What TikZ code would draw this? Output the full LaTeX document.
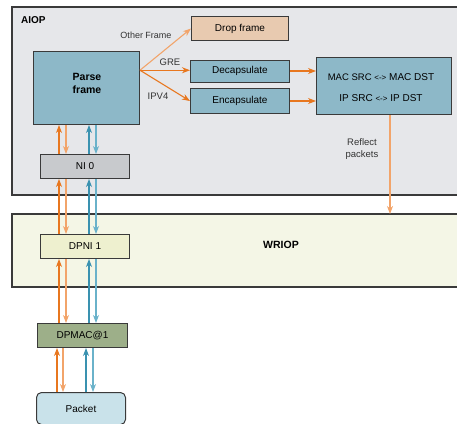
\documentclass[tikz,border=0pt]{standalone}
\usepackage{fontspec}
\setmainfont{Liberation Sans}
\usetikzlibrary{arrows.meta,calc}
\definecolor{aiopbg}{HTML}{E6E7EA}
\definecolor{wriopbg}{HTML}{F4F6E6}
\definecolor{parsebg}{HTML}{8DB8C8}
\definecolor{nibg}{HTML}{C8CACD}
\definecolor{dropbg}{HTML}{E8CAB0}
\definecolor{dpnibg}{HTML}{EEF0CF}
\definecolor{dpmacbg}{HTML}{9DAF89}
\definecolor{packetbg}{HTML}{C9E2EA}
\definecolor{orangeA}{HTML}{E8771F}
\definecolor{orangeL}{HTML}{F2A46A}
\definecolor{blueA}{HTML}{3A92B0}
\definecolor{blueL}{HTML}{6AB2CA}
\definecolor{edge}{HTML}{3A3A3A}
\tikzset{
  box/.style={draw=edge,line width=1pt,inner sep=0pt,anchor=north west,font=\fontsize{10}{12}\selectfont},
  lbl/.style={font=\fontsize{9}{11}\selectfont,text=black!80,inner sep=0pt},
  tip/.style={-{Stealth[length=8pt,width=6pt,inset=2.5pt]}},
  oup/.style={tip,draw=orangeA,line width=1.1pt},
  odn/.style={tip,draw=orangeL,line width=1.1pt},
  bup/.style={tip,draw=blueA,line width=1.1pt},
  bdn/.style={tip,draw=blueL,line width=1.1pt},
}
\begin{document}
\begin{tikzpicture}[x=1pt,y=-1pt]
\useasboundingbox (0,0) rectangle (457,423);
% big regions
\path[fill=aiopbg,draw=edge,line width=1.1pt] (12,7) rectangle (460,195);
\path[fill=wriopbg,draw=edge,line width=1.1pt] (12,214) rectangle (460,287);
\node[font=\bfseries\fontsize{10}{12}\selectfont,anchor=west,inner sep=0pt] (aiop) at (21,20) {AIOP};
\node[font=\bfseries\fontsize{10.5}{12}\selectfont,inner sep=0pt] (wriop) at (281,245) {WRIOP};
% nodes
\node[box,fill=parsebg,minimum width=106pt,minimum height=73pt] (pf) at (33,51) {};
\node[align=center,font=\bfseries\fontsize{10.5}{13.5}\selectfont,inner sep=0pt] (pftxt) at (87,83.5) {Parse\\frame};
\node[box,fill=nibg,minimum width=89pt,minimum height=24pt] (ni) at (40,154) {NI 0};
\node[box,fill=dropbg,minimum width=97pt,minimum height=24pt] (drop) at (191,16) {Drop frame};
\node[box,fill=parsebg,minimum width=99pt,minimum height=22pt] (dec) at (190,59.5) {Decapsulate};
\node[box,fill=parsebg,minimum width=99pt,minimum height=25pt] (enc) at (190,88) {Encapsulate};
\node[box,fill=parsebg,minimum width=135pt,minimum height=57pt] (mac) at (316,57) {};
\node[font=\fontsize{10}{12}\selectfont,inner sep=0pt] (mactxt) at (381,77) {{\fontsize{9.5}{12}\selectfont MAC SRC} {\fontsize{8}{9}\selectfont<->} MAC DST};
\node[font=\fontsize{10}{12}\selectfont,inner sep=0pt] (iptxt) at (381,98) {IP SRC {\fontsize{8}{9}\selectfont<->} IP DST};
\node[box,fill=dpnibg,minimum width=89pt,minimum height=24pt] (dpni) at (40,234) {DPNI 1};
\node[box,fill=dpmacbg,minimum width=90pt,minimum height=24pt] (dpmac) at (37,323) {DPMAC@1};
\node[box,fill=packetbg,rounded corners=5pt,minimum width=89pt,minimum height=32pt] (pkt) at (36,392) {Packet};
% coordinates for vertical lanes
\coordinate (x1) at (59,0);
\coordinate (x2) at (66,0);
\coordinate (x3) at (89,0);
\coordinate (x4) at (96,0);
\coordinate (y1) at (57,0);
\coordinate (y2) at (63,0);
\coordinate (y3) at (86,0);
\coordinate (y4) at (93,0);
% parse <-> NI
\draw[oup] (ni.north -| x1) -- (pf.south -| x1);
\draw[odn] (pf.south -| x2) -- (ni.north -| x2);
\draw[bup] (ni.north -| x3) -- (pf.south -| x3);
\draw[bdn] (pf.south -| x4) -- (ni.north -| x4);
% NI <-> DPNI
\draw[oup] (dpni.north -| x1) -- (ni.south -| x1);
\draw[odn] (ni.south -| x2) -- (dpni.north -| x2);
\draw[bup] (dpni.north -| x3) -- (ni.south -| x3);
\draw[bdn] (ni.south -| x4) -- (dpni.north -| x4);
% DPNI <-> DPMAC
\draw[oup] (dpmac.north -| x1) -- (dpni.south -| x1);
\draw[odn] (dpni.south -| x2) -- (dpmac.north -| x2);
\draw[bup] (dpmac.north -| x3) -- (dpni.south -| x3);
\draw[bdn] (dpni.south -| x4) -- (dpmac.north -| x4);
% DPMAC <-> Packet
\draw[oup] (pkt.north -| y1) -- (dpmac.south -| y1);
\draw[odn] (dpmac.south -| y2) -- (pkt.north -| y2);
\draw[bup] (pkt.north -| y3) -- (dpmac.south -| y3);
\draw[bdn] (dpmac.south -| y4) -- (pkt.north -| y4);
% parse branches
\coordinate (pfo) at ($(pf.north east)!0.26!(pf.south east)$);
\draw[tip,draw=orangeL,line width=1.1pt] (pfo) -- (drop.west);
\draw[tip,draw=orangeA,line width=1.1pt] (pfo) -- (dec.west |- pfo);
\draw[tip,draw=orangeA,line width=1.1pt] (pfo) -- (enc.west);
\node[lbl] (lother) at (146,35) {Other Frame};
\node[lbl,font=\fontsize{9.5}{11}\selectfont] (lgre) at (170,62) {GRE};
\node[lbl,font=\fontsize{9.5}{11}\selectfont] (lipv) at (158,96) {IPV4};
% to MAC box
\draw[tip,draw=orangeA,line width=1.1pt] (dec.east) -- (mac.west |- dec.east);
\draw[tip,draw=orangeA,line width=1.1pt] (enc.east) -- (mac.west |- enc.east);
% reflect
\coordinate (rx) at (390,0);
\draw[tip,draw=orangeL,line width=1.1pt] (mac.south -| rx) -- ($(mac.south -| rx)+(0,99)$) coordinate (rend);
\node[lbl,align=center,font=\fontsize{9.5}{12}\selectfont] (lref) at (362,149) {Reflect\\packets};
\end{tikzpicture}
\end{document}
